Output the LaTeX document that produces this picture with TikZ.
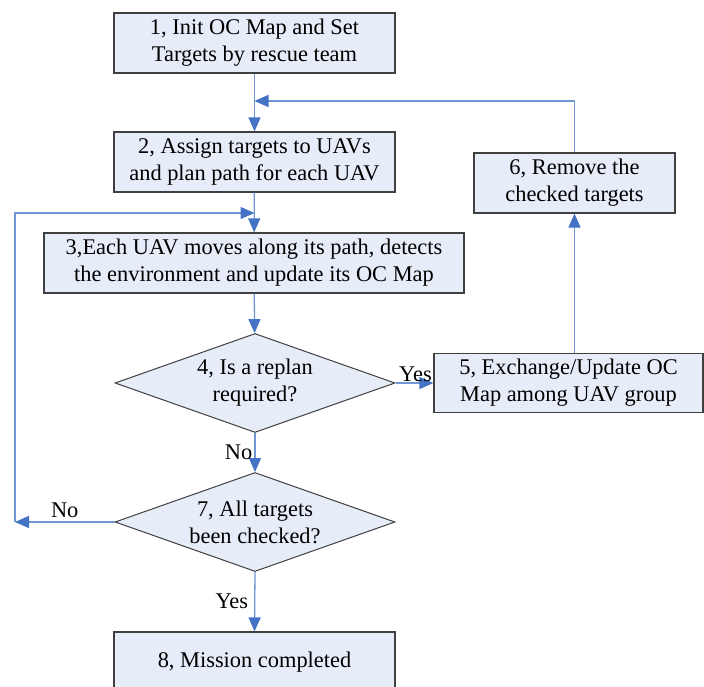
\documentclass[tikz,border=0pt]{standalone}
\usepackage{fontspec}
\setmainfont{Liberation Serif}
\usetikzlibrary{shapes.geometric,arrows.meta}
\definecolor{boxfill}{RGB}{230,236,248}
\definecolor{boxline}{RGB}{64,64,64}
\definecolor{lineblue}{RGB}{112,150,214}
\definecolor{tipblue}{RGB}{68,114,196}
\begin{document}
\begin{tikzpicture}[x=1pt,y=-1pt,
    font=\fontsize{22.4}{27}\selectfont,
    stepbox/.style={draw=boxline,line width=1.2pt,fill=boxfill,rectangle,align=center,inner sep=0pt,minimum height=60pt},
    decide/.style={draw=boxline,line width=1pt,fill=boxfill,diamond,aspect=2.83,align=center,inner sep=0pt,minimum width=280pt,minimum height=99pt},
    arr/.style={draw=lineblue,line width=1.3pt,-{Triangle[length=14pt,width=12pt,color=tipblue]}},
    link/.style={draw=lineblue,line width=1.3pt}]
  \useasboundingbox (0,0) rectangle (704,687);
  \clip (0,0) rectangle (704,687);
  \node[stepbox,minimum width=281pt] (init) at (254.5,43) {1, Init OC Map and Set\\Targets by rescue team};%
  \node[stepbox,minimum width=281pt] (assign) at (254.5,162) {2, Assign targets to UAVs\\and plan path for each UAV};%
  \node[stepbox,minimum width=420pt] (move) at (254,263) {3,Each UAV moves along its path, detects\\the environment and update its OC Map};%
  \node[decide] (replan) at (255,383) {4, Is a replan\\required?};%
  \node[stepbox,minimum width=269pt,minimum height=59pt] (exchange) at (568.5,383) {5, Exchange/Update OC\\Map among UAV group};%
  \node[stepbox,minimum width=201pt] (remove) at (574.5,183) {6, Remove the\\checked targets};%
  \node[decide] (check) at (255,522) {7, All targets\\been checked?};%
  \node[stepbox,minimum width=281pt] (done) at (254.5,662) {8, Mission completed};%

  \coordinate (j1) at (254.5,101);%
  \coordinate (j2) at (254.5,213);%
  \coordinate (lb) at (15,522);%

  \draw[arr] (init) -- (assign);%
  \draw[arr] (remove.north) |- (j1);%
  \draw[arr] (assign) -- (move);%
  \draw[arr] (move) -- (replan);%
  \draw[arr] (replan.east) -- (exchange.west) node[pos=1,above left,inner sep=1pt] {Yes};%
  \draw[arr] (exchange.north -| remove.south) -- (remove.south);%
  \draw[arr] (replan.south) -- (check.north) node[pos=0.5,left,inner sep=2pt] {No};%
  \draw[arr] (check.west) -- (lb) node[pos=0.5,above,inner sep=4pt] {No};%
  \draw[arr] (lb) |- (j2);%
  \draw[arr] (check.south) -- (done.north) node[pos=0.5,left,inner sep=6pt] {Yes};%
\end{tikzpicture}
\end{document}
